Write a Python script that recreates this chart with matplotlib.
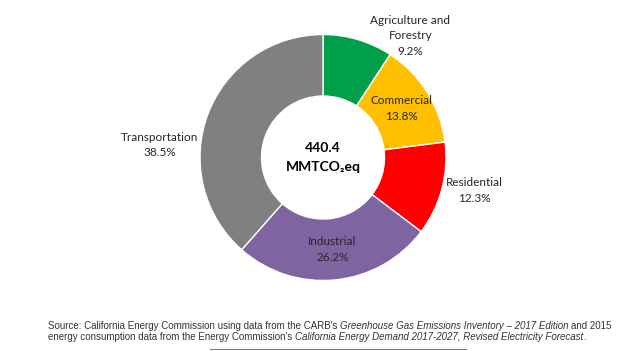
import matplotlib
matplotlib.use('Agg')
import matplotlib.pyplot as plt
import numpy as np
from matplotlib.transforms import IdentityTransform

# data
sectors = ['Agriculture and\nForestry', 'Commercial', 'Residential', 'Industrial', 'Transportation']
shares = [9.2, 13.8, 12.3, 26.2, 38.5]
colors = ['#00A04A', '#FFC000', '#FF0000', '#8064A2', '#808080']
total_label = '440.4\nMMTCO\u2082eq'

footnote_lines = [
    [("Source: California Energy Commission using data from the CARB's ", 'normal'),
     ('Greenhouse Gas Emissions Inventory \u2013 2017 Edition', 'italic'),
     (' and 2015', 'normal')],
    [("energy consumption data from the Energy Commission's ", 'normal'),
     ('California Energy Demand 2017-2027, Revised Electricity Forecast', 'italic'),
     ('.', 'normal')],
]

W, H = 640, 351
CX, CY, R = 323, H - 157.5, 123
label_font = ['Lato', 'DejaVu Sans']
text_color = '#262626'

# where the labels sit (units of the radius, from the centre); others go inside the ring
outside = {
    'Agriculture and\nForestry': (0.71, 0.99),
    'Residential': (1.23, -0.27),
    'Transportation': (-1.33, 0.10),
}

fig = plt.figure(figsize=(W / 100, H / 100), dpi=100)
ax = fig.add_axes([0, 0, 1, 1])
wedges, _ = ax.pie(shares, colors=colors, startangle=90, counterclock=False,
                   radius=R, center=(CX, CY),
                   wedgeprops=dict(width=R * 0.5, edgecolor='white', linewidth=1))
ax.set_xlim(0, W)
ax.set_ylim(0, H)
ax.set_aspect('equal')
ax.axis('off')

for w, name, pct in zip(wedges, sectors, shares):
    if name in outside:
        dx, dy = outside[name]
    else:
        mid = np.deg2rad((w.theta1 + w.theta2) / 2)
        dx, dy = 0.75 * np.cos(mid), 0.75 * np.sin(mid)
    ax.text(CX + dx * R, CY + dy * R, f'{name}\n{pct}%', ha='center', va='center',
            family=label_font, fontsize=8.5, color=text_color, linespacing=1.5)

ax.text(CX, CY, total_label, ha='center', va='center', family=label_font,
        fontsize=10, fontweight='bold', color='black', linespacing=1.65)

# footnote with italic titles
renderer = fig.canvas.get_renderer()
fn_kw = dict(family='Liberation Sans', fontsize=7.0, color='#333333', va='baseline')


def width_of(s, style):
    t = fig.text(0, 0, s, style=style, transform=IdentityTransform(), **fn_kw)
    w = t.get_window_extent(renderer).width
    t.remove()
    return w


space_w = width_of('a a', 'normal') - width_of('aa', 'normal')
for i, runs in enumerate(footnote_lines):
    x = 48
    y = H - 329 - i * 11
    for s, style in runs:
        if s.startswith(' '):
            x += space_w
        core = s.strip()
        t = fig.text(x, y, core, style=style, transform=IdentityTransform(), **fn_kw)
        x += t.get_window_extent(renderer).width
        if s.endswith(' '):
            x += space_w

fig.add_artist(plt.Line2D([210, 466], [H - 348.5, H - 348.5], transform=IdentityTransform(),
                          color='#7f7f7f', linewidth=0.8))

fig.savefig('out.png', dpi=100)
